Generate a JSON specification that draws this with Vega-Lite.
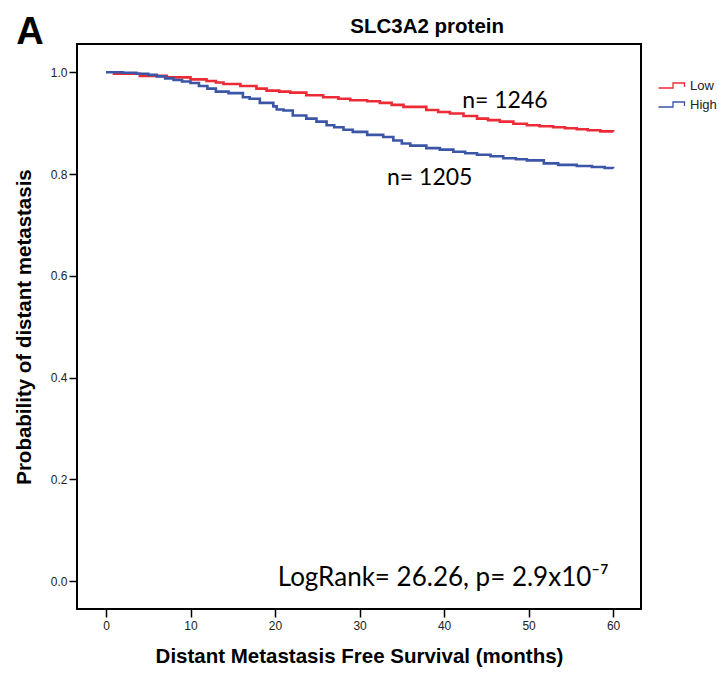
{
  "$schema": "https://vega.github.io/schema/vega-lite/v6.json",
  "autosize": "none",
  "width": 564,
  "height": 565,
  "padding": {"left": 77, "top": 44, "right": 79, "bottom": 65},
  "background": "white",
  "config": {
    "view": {"stroke": "black", "strokeWidth": 2},
    "axis": {"grid": false, "domain": false, "tickColor": "black", "tickWidth": 1.5, "tickSize": 8,
      "labelFont": "Liberation Sans", "labelFontSize": 12, "labelColor": "#222",
      "titleFont": "Liberation Sans", "titleFontWeight": "bold", "titleFontSize": 20.5, "titleColor": "black"}
  },
  "datasets": {
    "curves": [
      {"group": "Low", "month": 0.8, "prob": 0.997},
      {"group": "Low", "month": 4, "prob": 0.993},
      {"group": "Low", "month": 7.2, "prob": 0.990},
      {"group": "Low", "month": 10, "prob": 0.986},
      {"group": "Low", "month": 11.9, "prob": 0.983},
      {"group": "Low", "month": 13, "prob": 0.980},
      {"group": "Low", "month": 13.9, "prob": 0.977},
      {"group": "Low", "month": 15.9, "prob": 0.973},
      {"group": "Low", "month": 17.8, "prob": 0.968},
      {"group": "Low", "month": 19, "prob": 0.964},
      {"group": "Low", "month": 20.5, "prob": 0.962},
      {"group": "Low", "month": 21.8, "prob": 0.960},
      {"group": "Low", "month": 23.7, "prob": 0.955},
      {"group": "Low", "month": 25.7, "prob": 0.951},
      {"group": "Low", "month": 27.5, "prob": 0.948},
      {"group": "Low", "month": 28.9, "prob": 0.945},
      {"group": "Low", "month": 30.9, "prob": 0.943},
      {"group": "Low", "month": 32.4, "prob": 0.940},
      {"group": "Low", "month": 33.8, "prob": 0.936},
      {"group": "Low", "month": 35.2, "prob": 0.932},
      {"group": "Low", "month": 37.9, "prob": 0.926},
      {"group": "Low", "month": 39.3, "prob": 0.922},
      {"group": "Low", "month": 40.7, "prob": 0.919},
      {"group": "Low", "month": 42.3, "prob": 0.914},
      {"group": "Low", "month": 43.9, "prob": 0.909},
      {"group": "Low", "month": 45.2, "prob": 0.906},
      {"group": "Low", "month": 46.6, "prob": 0.903},
      {"group": "Low", "month": 48.2, "prob": 0.899},
      {"group": "Low", "month": 49.8, "prob": 0.896},
      {"group": "Low", "month": 51.3, "prob": 0.894},
      {"group": "Low", "month": 52.9, "prob": 0.892},
      {"group": "Low", "month": 54.3, "prob": 0.890},
      {"group": "Low", "month": 55.7, "prob": 0.888},
      {"group": "Low", "month": 57, "prob": 0.886},
      {"group": "Low", "month": 58.5, "prob": 0.884},
      {"group": "Low", "month": 60, "prob": 0.883},
      {"group": "High", "month": 0, "prob": 1.0},
      {"group": "High", "month": 2, "prob": 0.999},
      {"group": "High", "month": 3.6, "prob": 0.997},
      {"group": "High", "month": 5, "prob": 0.995},
      {"group": "High", "month": 6, "prob": 0.992},
      {"group": "High", "month": 7, "prob": 0.988},
      {"group": "High", "month": 8, "prob": 0.985},
      {"group": "High", "month": 9, "prob": 0.982},
      {"group": "High", "month": 10, "prob": 0.979},
      {"group": "High", "month": 11, "prob": 0.973},
      {"group": "High", "month": 12, "prob": 0.968},
      {"group": "High", "month": 13, "prob": 0.962},
      {"group": "High", "month": 14.5, "prob": 0.959},
      {"group": "High", "month": 16.2, "prob": 0.951},
      {"group": "High", "month": 17, "prob": 0.948},
      {"group": "High", "month": 18.2, "prob": 0.940},
      {"group": "High", "month": 19.8, "prob": 0.933},
      {"group": "High", "month": 20.2, "prob": 0.927},
      {"group": "High", "month": 21, "prob": 0.925},
      {"group": "High", "month": 22.1, "prob": 0.915},
      {"group": "High", "month": 23.7, "prob": 0.909},
      {"group": "High", "month": 24.9, "prob": 0.903},
      {"group": "High", "month": 26.1, "prob": 0.896},
      {"group": "High", "month": 27, "prob": 0.892},
      {"group": "High", "month": 28.1, "prob": 0.887},
      {"group": "High", "month": 29.2, "prob": 0.883},
      {"group": "High", "month": 30.9, "prob": 0.877},
      {"group": "High", "month": 32.8, "prob": 0.873},
      {"group": "High", "month": 34, "prob": 0.866},
      {"group": "High", "month": 35, "prob": 0.860},
      {"group": "High", "month": 36, "prob": 0.856},
      {"group": "High", "month": 37.9, "prob": 0.851},
      {"group": "High", "month": 39.5, "prob": 0.848},
      {"group": "High", "month": 41.1, "prob": 0.844},
      {"group": "High", "month": 42.5, "prob": 0.841},
      {"group": "High", "month": 43.9, "prob": 0.838},
      {"group": "High", "month": 45.5, "prob": 0.835},
      {"group": "High", "month": 47, "prob": 0.831},
      {"group": "High", "month": 48.5, "prob": 0.829},
      {"group": "High", "month": 49.8, "prob": 0.827},
      {"group": "High", "month": 51.8, "prob": 0.821},
      {"group": "High", "month": 53.5, "prob": 0.818},
      {"group": "High", "month": 55.7, "prob": 0.816},
      {"group": "High", "month": 57.5, "prob": 0.814},
      {"group": "High", "month": 59, "prob": 0.812},
      {"group": "High", "month": 60, "prob": 0.811}
    ],
    "notes": [
      {"label": "n= 1246", "month": 47.2, "prob": 0.944},
      {"label": "n= 1205", "month": 38.3, "prob": 0.792}
    ],
    "stat": [
      {"label": "LogRank= 26.26, p= 2.9x10⁻⁷", "month": 39.9, "prob": 0.007}
    ],
    "heads": [
      {"label": "A", "month": -9.0, "prob": 1.077, "size": 38},
      {"label": "SLC3A2 protein", "month": 38.0, "prob": 1.089, "size": 20.5}
    ]
  },
  "layer": [
    {
      "data": {"name": "curves"},
      "mark": {"type": "line", "interpolate": "step-after", "strokeWidth": 2.6},
      "encoding": {
        "x": {"field": "month", "type": "quantitative",
          "scale": {"domain": [-3.43, 63.3], "nice": false, "zero": false},
          "axis": {"values": [0, 10, 20, 30, 40, 50, 60], "title": "Distant Metastasis Free Survival (months)", "labelPadding": 3, "titlePadding": 15}},
        "y": {"field": "prob", "type": "quantitative",
          "scale": {"domain": [-0.0546, 1.0556], "nice": false, "zero": false},
          "axis": {"values": [0, 0.2, 0.4, 0.6, 0.8, 1.0], "format": ".1f", "title": "Probability of distant metastasis", "labelPadding": 2, "titlePadding": 16}},
        "color": {"field": "group", "type": "nominal",
          "scale": {"domain": ["Low", "High"], "range": ["#ec2b36", "#3b55a7"]},
          "legend": {"title": null, "orient": "none", "legendX": 588, "legendY": 35,
            "symbolType": "M-2.6,0.5H0.3V-0.5H2.6V0.3", "symbolSize": 100, "symbolStrokeWidth": 1.3,
            "labelOffset": 12, "labelFont": "Liberation Sans", "labelFontSize": 13, "labelColor": "#222", "rowPadding": 5}}
      }
    },
    {
      "data": {"name": "notes"},
      "mark": {"type": "text", "font": "Lato", "fontSize": 23, "align": "center", "baseline": "middle", "color": "black"},
      "encoding": {
        "x": {"field": "month", "type": "quantitative"},
        "y": {"field": "prob", "type": "quantitative"},
        "text": {"field": "label"}
      }
    },
    {
      "data": {"name": "stat"},
      "mark": {"type": "text", "font": "Lato", "fontSize": 26, "align": "center", "baseline": "middle", "color": "black"},
      "encoding": {
        "x": {"field": "month", "type": "quantitative"},
        "y": {"field": "prob", "type": "quantitative"},
        "text": {"field": "label"}
      }
    },
    {
      "data": {"name": "heads"},
      "mark": {"type": "text", "font": "Liberation Sans", "fontWeight": "bold", "align": "center", "baseline": "middle", "color": "black"},
      "encoding": {
        "x": {"field": "month", "type": "quantitative"},
        "y": {"field": "prob", "type": "quantitative"},
        "text": {"field": "label"},
        "size": {"field": "size", "type": "quantitative", "scale": null, "legend": null}
      }
    }
  ]
}
